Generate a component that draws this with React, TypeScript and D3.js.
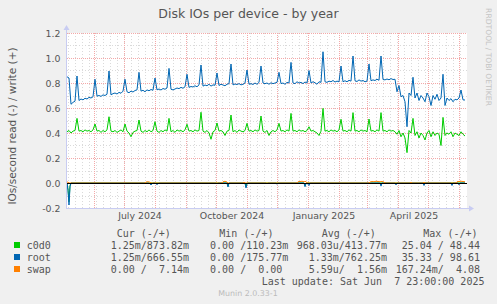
import * as d3 from "d3";

const W = 497;
const H = 304;

// time window of the graph (one pixel per day)
const startDate = new Date(Date.UTC(2024, 4, 5));
const endDate = new Date(Date.UTC(2025, 5, 9));
const stepDays = 2;

// write IOs (+), one value every 2 days from startDate
const c0d0Write = [
  0.41, 0.42, 0.40, 0.415, 0.42, 0.517, 0.415, 0.42, 0.41, 0.425,
  0.415, 0.42, 0.41, 0.425, 0.472, 0.415, 0.42, 0.405, 0.42, 0.41,
  0.425, 0.53, 0.415, 0.41, 0.42, 0.405, 0.415, 0.425, 0.41, 0.472,
  0.415, 0.40, 0.37, 0.405, 0.415, 0.42, 0.504, 0.415, 0.405, 0.42,
  0.41, 0.425, 0.41, 0.42, 0.49, 0.415, 0.405, 0.42, 0.41, 0.425,
  0.415, 0.517, 0.41, 0.42, 0.405, 0.425, 0.415, 0.42, 0.41, 0.425,
  0.47, 0.415, 0.42, 0.41, 0.425, 0.415, 0.42, 0.566, 0.415, 0.405,
  0.42, 0.40, 0.35, 0.41, 0.42, 0.48, 0.415, 0.42, 0.41, 0.38,
  0.415, 0.42, 0.544, 0.41, 0.42, 0.405, 0.425, 0.415, 0.41, 0.42,
  0.477, 0.415, 0.42, 0.41, 0.425, 0.415, 0.42, 0.536, 0.415, 0.405,
  0.42, 0.38, 0.41, 0.42, 0.41, 0.425, 0.477, 0.415, 0.42, 0.41,
  0.425, 0.415, 0.557, 0.415, 0.42, 0.41, 0.425, 0.415, 0.42, 0.41,
  0.42, 0.45, 0.415, 0.42, 0.41, 0.40, 0.38, 0.415, 0.597, 0.415,
  0.42, 0.41, 0.425, 0.415, 0.42, 0.41, 0.425, 0.51, 0.415, 0.42,
  0.41, 0.425, 0.415, 0.563, 0.415, 0.42, 0.41, 0.425, 0.415, 0.42,
  0.41, 0.512, 0.415, 0.42, 0.41, 0.425, 0.415, 0.563, 0.415, 0.42,
  0.41, 0.425, 0.415, 0.42, 0.41, 0.39, 0.42, 0.37, 0.40, 0.36,
  0.243, 0.42, 0.40, 0.517, 0.38, 0.41, 0.36, 0.40, 0.38, 0.344,
  0.40, 0.42, 0.37, 0.41, 0.38, 0.40, 0.39, 0.30, 0.525, 0.38,
  0.40, 0.39, 0.41, 0.37, 0.40, 0.39, 0.38, 0.41, 0.39, 0.376,
];

const rootWrite = [
  0.85, 0.84, 0.63, 0.645, 0.655, 0.856, 0.66, 0.672, 0.665, 0.678,
  0.672, 0.685, 0.68, 0.69, 0.83, 0.695, 0.70, 0.693, 0.705, 0.70,
  0.71, 0.896, 0.705, 0.715, 0.72, 0.712, 0.725, 0.718, 0.735, 0.83,
  0.73, 0.722, 0.735, 0.728, 0.74, 0.745, 0.885, 0.735, 0.742, 0.73,
  0.745, 0.738, 0.748, 0.742, 0.84, 0.745, 0.752, 0.744, 0.756, 0.75,
  0.76, 0.917, 0.75, 0.745, 0.752, 0.76, 0.755, 0.765, 0.758, 0.77,
  0.87, 0.765, 0.772, 0.768, 0.778, 0.77, 0.785, 0.944, 0.775, 0.784,
  0.778, 0.79, 0.775, 0.785, 0.782, 0.88, 0.78, 0.79, 0.784, 0.778,
  0.79, 0.795, 0.952, 0.785, 0.792, 0.788, 0.795, 0.785, 0.79, 0.80,
  0.904, 0.79, 0.795, 0.788, 0.80, 0.79, 0.805, 0.936, 0.80, 0.795,
  0.80, 0.79, 0.802, 0.795, 0.80, 0.805, 0.885, 0.795, 0.80, 0.79,
  0.805, 0.80, 0.965, 0.80, 0.795, 0.81, 0.80, 0.805, 0.795, 0.808,
  0.80, 0.90, 0.80, 0.81, 0.802, 0.79, 0.81, 0.805, 1.05, 0.81,
  0.805, 0.815, 0.81, 0.82, 0.808, 0.815, 0.81, 0.936, 0.81, 0.818,
  0.81, 0.822, 0.815, 1.016, 0.818, 0.812, 0.825, 0.815, 0.82, 0.81,
  0.815, 0.952, 0.818, 0.825, 0.82, 0.83, 0.822, 1.016, 0.828, 0.825,
  0.832, 0.826, 0.835, 0.828, 0.83, 0.73, 0.78, 0.69, 0.70, 0.65,
  0.45, 0.72, 0.70, 0.846, 0.68, 0.72, 0.66, 0.70, 0.68, 0.65,
  0.72, 0.69, 0.62, 0.70, 0.67, 0.71, 0.66, 0.68, 0.87, 0.62,
  0.68, 0.66, 0.675, 0.65, 0.67, 0.665, 0.68, 0.744, 0.665, 0.664,
];

// read IOs (-), sparse samples: day offset from startDate, value
const rootReadDays = [0, 1, 2, 3, 4, 82, 84, 86, 88, 90, 92, 149, 150, 151, 160, 161, 162, 178, 179, 180, 181, 199, 200, 201, 209, 210, 211, 237, 238, 239, 240, 242, 243, 313, 314, 315, 328, 329, 330, 356, 357, 358, 384, 385, 386, 391, 392, 393, 398];
const rootReadValues = [0, -0.06, -0.176, -0.03, 0, 0, -0.015, 0, 0, -0.012, 0, 0, -0.008, 0, 0, -0.032, 0, 0, -0.04, -0.01, 0, 0, -0.008, 0, 0, -0.01, 0, 0, -0.03, -0.005, 0, -0.02, 0, 0, -0.025, 0, 0, -0.015, 0, 0, -0.02, 0, 0, -0.02, 0, 0, -0.015, 0, 0];

const c0d0ReadDays = [0, 1, 2, 3, 4, 160, 161, 162, 178, 179, 180, 237, 238, 239, 398];
const c0d0ReadValues = [0, -0.05, -0.15, -0.02, 0, 0, -0.025, 0, 0, -0.03, 0, 0, -0.02, 0, 0];

const swapWriteDays = [0, 1, 2, 78, 79, 81, 83, 84, 155, 156, 158, 160, 161, 176, 177, 178, 230, 231, 233, 235, 237, 239, 240, 302, 303, 305, 307, 309, 311, 313, 315, 317, 318, 343, 344, 345, 356, 357, 358, 389, 390, 392, 394, 396, 398];
const swapWriteValues = [0.008, 0.006, 0, 0, 0.008, 0.01, 0.006, 0, 0, 0.01, 0.014, 0.008, 0, 0, 0.006, 0, 0, 0.01, 0.012, 0.014, 0.01, 0.012, 0, 0, 0.008, 0.012, 0.01, 0.014, 0.012, 0.01, 0.012, 0.008, 0, 0, 0.005, 0, 0, 0.006, 0, 0, 0.01, 0.012, 0.014, 0.012, 0.01];

const yTicks = [-0.2, 0, 0.2, 0.4, 0.6, 0.8, 1.0, 1.2];
const yMinorTicks = [-0.1, 0.1, 0.3, 0.5, 0.7, 0.9, 1.1];
const xLabels = ["July 2024", "October 2024", "January 2025", "April 2025"];
const xLabelMonths = [Date.UTC(2024, 6, 1), Date.UTC(2024, 9, 1), Date.UTC(2025, 0, 1), Date.UTC(2025, 3, 1)];

const legendNames = ["c0d0", "root", "swap"];
const legendColors = ["#00CC00", "#0066B3", "#FF8000"];
const legendHeaders = ["Cur (-/+)", "Min (-/+)", "Avg (-/+)", "Max (-/+)"];
const curVals = ["  1.25m/873.82m", "  1.25m/666.55m", "  0.00 /  7.14m"];
const minVals = ["  0.00 /110.23m", "  0.00 /175.77m", "  0.00 /  0.00 "];
const avgVals = ["968.03u/413.77m", "  1.33m/762.25m", "  5.59u/  1.56m"];
const maxVals = [" 25.04 / 48.44 ", " 35.33 / 98.61 ", "167.24m/  4.08 "];

// keep the monospace padding of rrdtool's GPRINT columns
const keepSpaces = (s: string) => s.replace(/ /g, "\u00A0");

export default function App() {
  const left = 67, right = 467, top = 33, bottom = 208;

  const x = d3.scaleUtc().domain([startDate, endDate]).range([left, right]);
  const y = d3.scaleLinear().domain([-0.2, 1.2]).range([bottom, top]);

  const dayAt = (d: number) => d3.utcDay.offset(startDate, d);
  const stepped = (vals: number[]) => vals.map((v, i) => [dayAt(i * stepDays), v] as [Date, number]);
  const sparse = (days: number[], vals: number[]) => days.map((d, i) => [dayAt(d), vals[i]] as [Date, number]);

  const line = d3.line<[Date, number]>().x(d => x(d[0])).y(d => y(d[1]));

  const series = [
    { pts: sparse(c0d0ReadDays, c0d0ReadValues), color: legendColors[0] },
    { pts: stepped(c0d0Write), color: legendColors[0] },
    { pts: sparse(rootReadDays, rootReadValues), color: legendColors[1] },
    { pts: stepped(rootWrite), color: legendColors[1] },
    { pts: sparse(swapWriteDays, swapWriteValues), color: legendColors[2] },
  ];

  const months = d3.utcMonth.range(d3.utcMonth.ceil(startDate), endDate);
  const weeks = d3.utcMonday.range(startDate, endDate);
  const crisp = (v: number) => Math.round(v) + 0.5;

  const axisFont = "'DejaVu Sans', sans-serif";
  const monoFont = "'DejaVu Sans Mono', monospace";
  const txt = "#555";
  const columnsX = [98.7, 198, 296.7, 395.7];
  const headersX = [116.7, 219.3, 321.7, 423.3];
  const rowY = [249, 261, 273];
  const cols = [curVals, minVals, avgVals, maxVals];

  return (
    <svg width={W} height={H} style={{ position: "absolute", left: 0, top: 0 }} fontFamily={axisFont}>
      <rect width={W} height={H} fill="#F0F0F0" />
      <rect x={left} y={top} width={right - left} height={bottom - top} fill="#FFFFFF" />

      {/* minor grid */}
      <g stroke="#DADADA" strokeDasharray="1,2" shapeRendering="crispEdges">
        {weeks.map((w, i) => (
          <line key={"w" + i} x1={crisp(x(w))} x2={crisp(x(w))} y1={top} y2={bottom} />
        ))}
        {yMinorTicks.map((t, i) => (
          <line key={"m" + i} x1={left} x2={right} y1={crisp(y(t))} y2={crisp(y(t))} />
        ))}
      </g>
      {/* major grid */}
      <g stroke="#F4A8A8" strokeDasharray="1,1" shapeRendering="crispEdges">
        {months.map((m, i) => (
          <line key={"M" + i} x1={crisp(x(m))} x2={crisp(x(m))} y1={top} y2={bottom} />
        ))}
        {yTicks.map((t, i) => (
          <line key={"t" + i} x1={left} x2={right} y1={crisp(y(t))} y2={crisp(y(t))} />
        ))}
      </g>

      {/* series */}
      {series.map((s, i) => (
        <path key={i} d={line(s.pts) || ""} fill="none" stroke={s.color} strokeWidth={1} />
      ))}

      {/* zero line */}
      <line x1={left} x2={right} y1={crisp(y(0))} y2={crisp(y(0))} stroke="#000" shapeRendering="crispEdges" />

      {/* axes */}
      <g stroke="#C8CCF2" shapeRendering="crispEdges">
        <line x1={left - 0.5} x2={left - 0.5} y1={top - 4} y2={bottom + 1} />
        <line x1={left - 1} x2={right + 3} y1={bottom + 0.5} y2={bottom + 0.5} />
      </g>
      <path d={`M${left - 3.5},${top - 3} L${left - 0.5},${top - 8} L${left + 2.5},${top - 3} Z`} fill="#C8CCF2" />
      <path d={`M${right + 2},${bottom - 2.5} L${right + 7},${bottom + 0.5} L${right + 2},${bottom + 3.5} Z`} fill="#C8CCF2" />

      {/* y tick labels */}
      <g fontSize={9.4} fill={txt} textAnchor="end">
        {yTicks.map((t, i) => (
          <text key={i} x={60.5} y={y(t) + 3.5}>{t.toFixed(1)}</text>
        ))}
      </g>
      {/* x tick labels */}
      <g fontSize={9.4} fill={txt} textAnchor="middle">
        {xLabels.map((l, i) => (
          <text key={i} x={x(d3.utcDay.offset(new Date(xLabelMonths[i]), 16))} y={219}>{l}</text>
        ))}
      </g>

      {/* titles */}
      <text x={248.5} y={18} fontSize={12.5} fill={txt} textAnchor="middle">Disk IOs per device - by year</text>
      <text transform="translate(16,126) rotate(-90)" fontSize={10.5} fill={txt} textAnchor="middle">IOs/second read (-) / write (+)</text>
      <text transform="translate(486,57) rotate(90)" fontSize={7.6} fill="#C4C4C4" textAnchor="middle">RRDTOOL / TOBI OETIKER</text>

      {/* legend */}
      <g fontFamily={monoFont} fontSize={10} fill={txt}>
        {legendHeaders.map((h, i) => (
          <text key={"h" + i} x={headersX[i]} y={237}>{keepSpaces(h)}</text>
        ))}
        {legendNames.map((n, r) => (
          <g key={n}>
            <rect x={14} y={rowY[r] - 7} width={6} height={6} fill={legendColors[r]} />
            <text x={26.7} y={rowY[r]}>{n}</text>
            {cols.map((c, ci) => (
              <text key={ci} x={columnsX[ci]} y={rowY[r]}>{keepSpaces(c[r])}</text>
            ))}
          </g>
        ))}
        <text x={261.7} y={285}>{keepSpaces("Last update: Sat Jun  7 23:00:00 2025")}</text>
      </g>
      <text x={248} y={296} fontSize={7.9} fill="#BBBBBB" textAnchor="middle">Munin 2.0.33-1</text>
    </svg>
  );
}
